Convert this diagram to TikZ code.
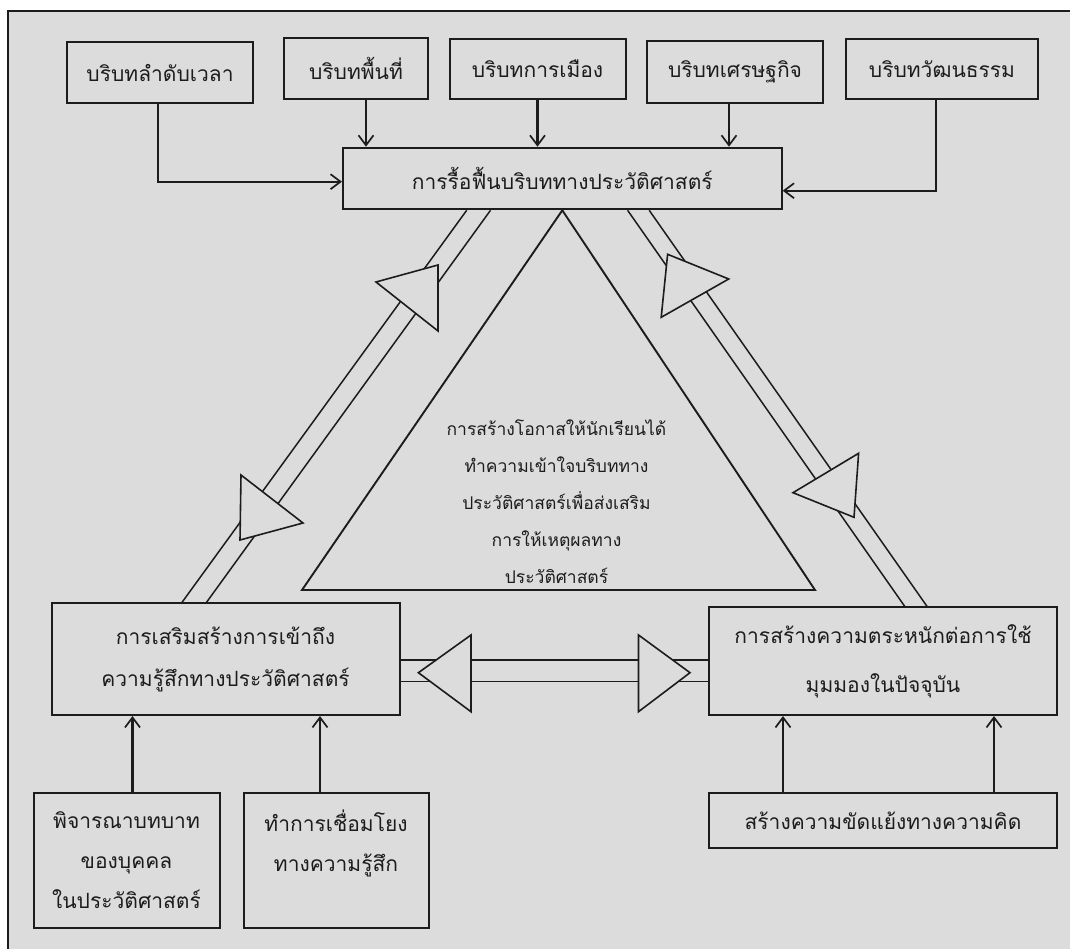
\documentclass[tikz,border=0pt]{standalone}
\usepackage{fontspec}
\usepackage{xcolor}
\usetikzlibrary{arrows.meta}
\newfontfamily\thaifont[Script=Thai]{Loma}
\definecolor{mpaper}{RGB}{220,220,220}
\definecolor{mink}{RGB}{28,28,28}

\begin{document}
\begin{tikzpicture}[x=1pt, y=-1pt, color=mink]
  \tikzset{ctx box/.style={draw, line width=2pt, fill=mpaper, align=center, inner sep=0pt, font=\thaifont\fontsize{21}{24}\selectfont},
    arr/.style={line width=2.1pt, -{Straight Barb[length=10pt, width=15pt, line width=1.7pt]}},
    rail/.style={line width=1.5pt},
    hollow tip/.style={draw, line width=1.6pt, fill=mpaper, line join=miter}}

  \useasboundingbox (0,0) rectangle (1070,949);
  \fill[white] (0,0) rectangle (1070,949);
  \draw[line width=1.5pt, fill=mpaper] (8,11) rectangle (1100,980); % frame

  % top row
  \node[ctx box, minimum width=186pt, minimum height=61pt] (ctxtime) at (160,72.8) {บริบทลำดับเวลา};
  \node[ctx box, minimum width=144pt, minimum height=61pt] (ctxspace) at (356,68.8) {บริบทพื้นที่};
  \node[ctx box, minimum width=176pt, minimum height=60pt] (ctxpolitics) at (537.5,69.2) {บริบทการเมือง};
  \node[ctx box, minimum width=176pt, minimum height=61.7pt] (ctxeconomy) at (735,71.9) {บริบทเศรษฐกิจ};
  \node[ctx box, minimum width=192pt, minimum height=60pt] (ctxculture) at (942,69.2) {บริบทวัฒนธรรม};
  \node[ctx box, minimum width=438.7pt, minimum height=61.6pt] (revive) at (562.3,178.5) {การรื้อฟื้นบริบททางประวัติศาสตร์};

  % corners of the triangle
  \node[ctx box, minimum width=348pt, minimum height=111.7pt, font=\thaifont\fontsize{21}{42}\selectfont] (feel) at (225.5,659.2) {การเสริมสร้างการเข้าถึง\\ความรู้สึกทางประวัติศาสตร์};
  \node[ctx box, minimum width=348pt, minimum height=107.7pt, font=\thaifont\fontsize{21}{49}\selectfont] (aware) at (883,661.2) {การสร้างความตระหนักต่อการใช้\\มุมมองในปัจจุบัน};

  % bottom row
  \node[ctx box, minimum width=186pt, minimum height=135pt, font=\thaifont\fontsize{21}{40}\selectfont] (roles) at (126.5,860.2) {พิจารณาบทบาท\\ของบุคคล\\ในประวัติศาสตร์};
  \node[ctx box, minimum width=185pt, minimum height=135pt, font=\thaifont\fontsize{21}{40}\selectfont] (link) at (336,860.2) {ทำการเชื่อมโยง\\ทางความรู้สึก\\~};
  \node[ctx box, minimum width=348pt, minimum height=55.6pt] (conflict) at (883,820.5) {สร้างความขัดแย้งทางความคิด};

  \draw[arr] ([xshift=-2pt]ctxtime.south) |- ([yshift=-3.2pt]revive.west);
  \draw[arr] ([xshift=10pt]ctxspace.south) -- ([xshift=10pt]ctxspace.south |- revive.north);
  \draw[arr] (ctxpolitics.south) -- (ctxpolitics.south |- revive.north);
  \draw[arr] ([xshift=-6pt]ctxeconomy.south) -- ([xshift=-6pt]ctxeconomy.south |- revive.north);
  \draw[arr] ([xshift=-6pt]ctxculture.south) |- ([yshift=-12.2pt]revive.east);

  \draw[arr] ([xshift=6pt]roles.north) -- ([xshift=6pt]roles.north |- feel.south);
  \draw[arr] ([xshift=-16pt]link.north) -- ([xshift=-16pt]link.north |- feel.south);
  \draw[arr] ([xshift=-100pt]conflict.north) -- ([xshift=-100pt]conflict.north |- aware.south);
  \draw[arr] ([xshift=111pt]conflict.north) -- ([xshift=111pt]conflict.north |- aware.south);

  % rails between the three corners
  \draw[rail] ([xshift=-95.6pt]revive.south) -- ([xshift=-43.5pt]feel.north);
  \draw[rail] ([xshift=-71.8pt]revive.south) -- ([xshift=-19pt]feel.north);
  \draw[rail] ([xshift=65.3pt]revive.south) -- ([xshift=21.7pt]aware.north);
  \draw[rail] ([xshift=86.9pt]revive.south) -- ([xshift=44pt]aware.north);
  \draw[rail] ([yshift=-0.8pt]feel.east) -- ([yshift=-0.8pt]feel.east -| aware.west);
  \draw[rail] ([yshift=-22.5pt]feel.east) -- ([yshift=-22.5pt]feel.east -| aware.west);

  \draw[hollow tip] (376,282) -- (438,265) -- (438,331) -- cycle;
  \draw[hollow tip] (241,475) -- (240,540) -- (303,523) -- cycle;
  \draw[hollow tip] (667.6,254.3) -- (728.7,279) -- (661.2,317.3) -- cycle;
  \draw[hollow tip] (858.6,453.3) -- (793,492.7) -- (854,517.3) -- cycle;
  \draw[hollow tip] (418.4,672.7) -- (471,635) -- (471,711.7) -- cycle;
  \draw[hollow tip] (638.5,635) -- (638.5,711.7) -- (690,672.7) -- cycle;

  % the middle triangle
  \draw[line width=1.9pt, line join=miter] (revive.south) -- (302,590) -- (815,590) -- cycle;
  \node[align=center, font=\thaifont\fontsize{17.5}{37}\selectfont] (core) at (556.5,501.7) {การสร้างโอกาสให้นักเรียนได้\\ทำความเข้าใจบริบททาง\\ประวัติศาสตร์เพื่อส่งเสริม\\การให้เหตุผลทาง\\ประวัติศาสตร์};
\end{tikzpicture}
\end{document}
